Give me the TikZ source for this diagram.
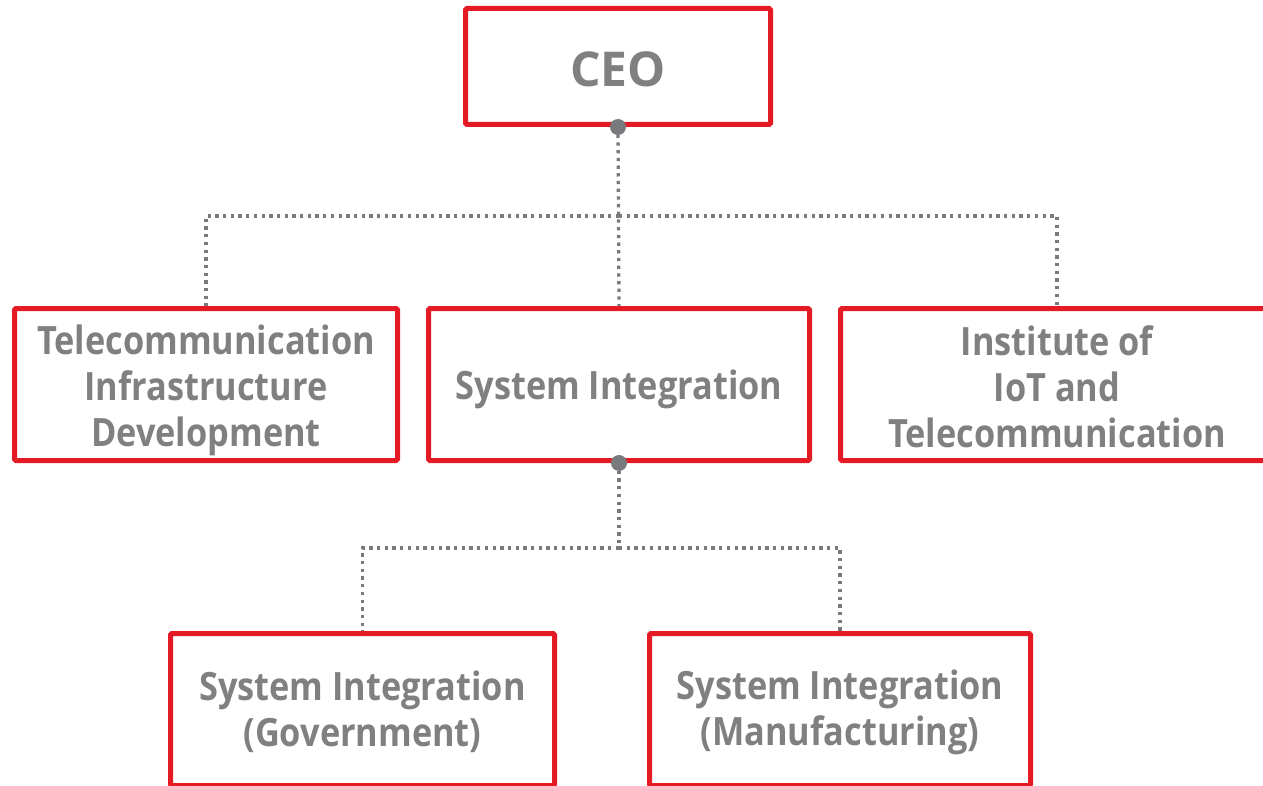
\documentclass[tikz,border=0pt]{standalone}
\usepackage{fontspec}
\setmainfont{Open Sans}[FakeStretch=0.88]
\newfontfamily\ceofont{Open Sans}
\newcommand\upstrut[1]{\rule{0pt}{#1pt}}
\definecolor{boxred}{RGB}{228,26,36}
\definecolor{txtgray}{RGB}{128,128,128}
\definecolor{linegray}{RGB}{120,122,126}
\begin{document}
\begin{tikzpicture}[x=1pt,y=-1pt,
  orgbox/.style={draw=boxred, line width=5pt, rounded corners=1.5pt, fill=white,
    text=txtgray, align=center, inner sep=0pt,
    font=\fontsize{39}{46}\selectfont\bfseries},
  link/.style={draw=linegray, line width=3.3pt, dash pattern=on 3.3pt off 4.4pt},
  hub/.style={circle, fill=linegray, inner sep=0pt, minimum size=16pt}]
\clip (0,0) rectangle (1263,786);
\fill[white] (0,0) rectangle (1263,786);
\node[orgbox, minimum width=305pt, minimum height=116pt, font=\ceofont\fontsize{48}{52}\selectfont\bfseries] (ceo) at (618,66.5) {\upstrut{40}CEO};
\node[orgbox, minimum width=383pt, minimum height=152pt] (tel) at (206,384.5) {\upstrut{41}Telecommunication\\Infrastructure\\Development};
\node[orgbox, minimum width=381pt, minimum height=152pt] (si) at (619,384.5) {\upstrut{40}System Integration};
\node[orgbox, minimum width=433pt, minimum height=152pt] (inst) at (1057,384.5) {\upstrut{34}Institute of\\IoT and\\Telecommunication};
\node[orgbox, minimum width=384pt, minimum height=152pt] (gov) at (362.5,709.5) {\upstrut{35}System Integration\\(Government)};
\node[orgbox, minimum width=381pt, minimum height=152pt] (man) at (840,709.5) {\upstrut{35}System Integration\\(Manufacturing)};
\coordinate (j1) at (619,216);
\coordinate (j2) at (619,548);
\path[link] (ceo.south) -- (si.north);
\path[link] (j1) -| (tel.north);
\path[link] (j1) -| (inst.north);
\path[link] (si.south) -- (j2);
\path[link] (j2) -| (gov.north);
\path[link] (j2) -| (man.north);
\node[hub] (h1) at (ceo.south) {};
\node[hub] (h2) at (si.south) {};
\end{tikzpicture}
\end{document}
